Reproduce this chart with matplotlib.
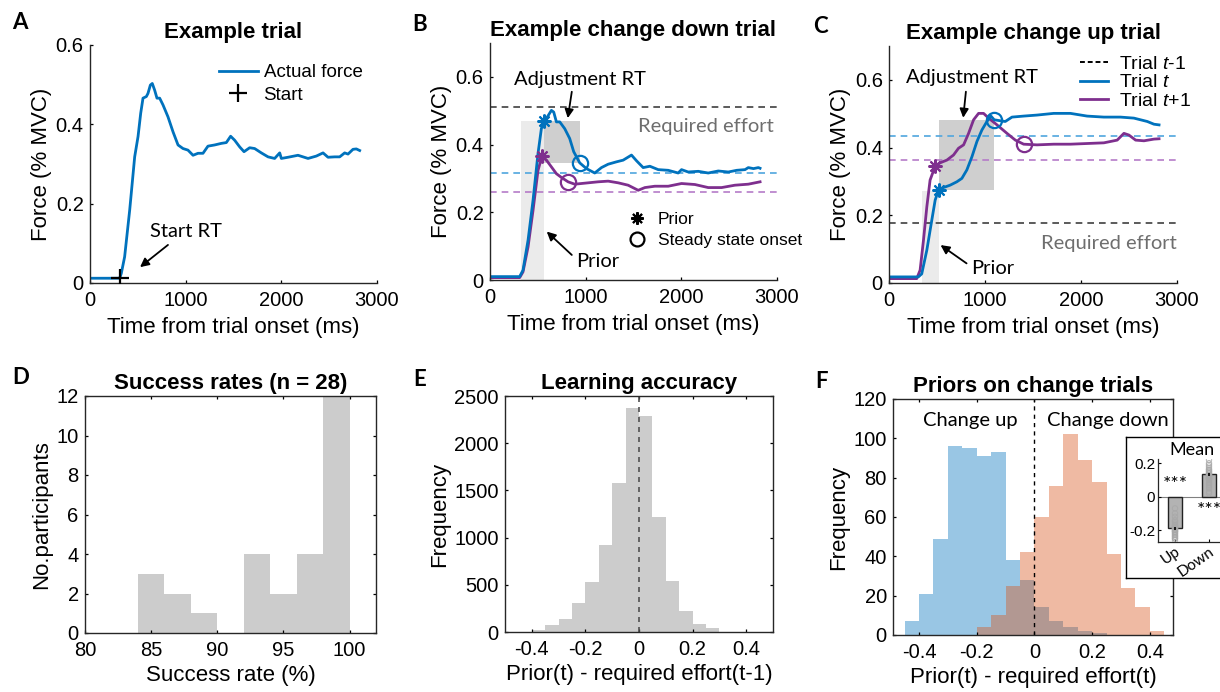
import numpy as np
import matplotlib.pyplot as plt
from matplotlib.lines import Line2D

# Style settings
plt.rcParams['font.family'] = ['Liberation Sans', 'DejaVu Sans']
plt.rcParams['font.size'] = 14
plt.rcParams['axes.unicode_minus'] = False
plt.rcParams['mathtext.fontset'] = 'custom'
plt.rcParams['mathtext.it'] = 'Liberation Sans:italic'
plt.rcParams['mathtext.rm'] = 'Liberation Sans'
plt.rcParams['xtick.direction'] = 'in'
plt.rcParams['ytick.direction'] = 'in'
plt.rcParams['xtick.major.size'] = 2.5
plt.rcParams['ytick.major.size'] = 2.5
plt.rcParams['xtick.major.pad'] = 5.5
plt.rcParams['ytick.major.pad'] = 4.5
plt.rcParams['axes.linewidth'] = 1.0

TICK = 14.5
LABEL = 16
TITLE = 16
NOTE = 14.5
LEG = 13.5
NOTE_FONT = 'Lato'

BLUE = '#0072BD'
PURPLE = '#7E2F8E'
BLUE_D = '#4FA6DE'
PURPLE_D = '#B57BC8'
GREY_L = '#EBEBEB'
GREY_D = '#CFCFCF'
HIST_GREY = '#CCCCCC'
AX_COL = '#262626'

# ---------------- Data ----------------
# A: example trial
a_time = [0, 310, 327, 362, 415, 467, 502, 530, 554, 589, 606, 631, 651, 676, 700, 728,
          763, 815, 868, 920, 972, 1024, 1077, 1129, 1181, 1233, 1303, 1373, 1425, 1470,
          1512, 1565, 1610, 1669, 1721, 1791, 1861, 1930, 1983, 2000, 2070, 2174, 2279,
          2366, 2436, 2488, 2558, 2610, 2662, 2697, 2749, 2784, 2819]
a_force = [0.012, 0.012, 0.024, 0.066, 0.184, 0.318, 0.369, 0.428, 0.466, 0.470, 0.478,
           0.499, 0.503, 0.486, 0.466, 0.466, 0.449, 0.419, 0.381, 0.348, 0.339, 0.335,
           0.322, 0.327, 0.327, 0.345, 0.348, 0.352, 0.354, 0.370, 0.360, 0.343, 0.331,
           0.341, 0.339, 0.328, 0.318, 0.314, 0.328, 0.314, 0.317, 0.322, 0.314, 0.320,
           0.328, 0.317, 0.318, 0.318, 0.328, 0.325, 0.337, 0.338, 0.334]
a_start = (310, 0.012)

# B: change down trial
b_time_t = [0, 310, 345, 398, 450, 502, 537, 565, 600, 642, 666, 694, 729, 781, 833, 875,
            938, 1008, 1095, 1165, 1235, 1322, 1392, 1479, 1532, 1601, 1671, 1758, 1863,
            1967, 2002, 2072, 2177, 2281, 2386, 2491, 2579, 2666, 2700, 2754, 2805, 2823]
b_force_t = [0.010, 0.010, 0.029, 0.118, 0.236, 0.374, 0.447, 0.470, 0.482, 0.501, 0.496,
             0.467, 0.467, 0.447, 0.418, 0.379, 0.346, 0.329, 0.316, 0.332, 0.342, 0.349,
             0.354, 0.369, 0.352, 0.332, 0.336, 0.326, 0.324, 0.316, 0.326, 0.319, 0.321,
             0.316, 0.322, 0.319, 0.324, 0.326, 0.332, 0.329, 0.332, 0.330]
b_time_t1 = [0, 310, 345, 398, 450, 502, 544, 590, 642, 694, 746, 816, 886, 956, 1026,
             1130, 1235, 1340, 1444, 1549, 1619, 1723, 1863, 2002, 2142, 2281, 2421, 2560,
             2700, 2823]
b_force_t1 = [0.007, 0.007, 0.024, 0.098, 0.206, 0.324, 0.366, 0.354, 0.334, 0.314, 0.303,
              0.290, 0.283, 0.285, 0.287, 0.290, 0.292, 0.287, 0.280, 0.265, 0.273, 0.277,
              0.277, 0.285, 0.282, 0.273, 0.273, 0.280, 0.283, 0.290]
b_req_prev, b_req_t, b_req_t1 = 0.51, 0.315, 0.261
b_prior_t, b_steady_t = (565, 0.47), (938, 0.346)
b_prior_t1, b_steady_t1 = (544, 0.366), (816, 0.29)

# C: change up trial
c_time_t = [0, 306, 341, 394, 446, 481, 516, 568, 637, 707, 759, 811, 864, 916, 968, 1020,
            1062, 1096, 1142, 1211, 1281, 1403, 1542, 1716, 1890, 2064, 2238, 2412, 2551,
            2691, 2760, 2813]
c_force_t = [0.018, 0.018, 0.027, 0.097, 0.186, 0.245, 0.274, 0.282, 0.289, 0.299, 0.309,
             0.334, 0.373, 0.418, 0.452, 0.477, 0.493, 0.482, 0.480, 0.477, 0.490, 0.493,
             0.496, 0.501, 0.501, 0.493, 0.490, 0.490, 0.487, 0.477, 0.469, 0.467]
c_time_t1 = [0, 289, 324, 359, 394, 428, 481, 533, 603, 672, 724, 777, 829, 881, 933, 985,
             1038, 1125, 1229, 1316, 1403, 1542, 1716, 1890, 2064, 2238, 2377, 2447, 2499,
             2569, 2656, 2760, 2813]
c_force_t1 = [0.013, 0.013, 0.038, 0.126, 0.225, 0.304, 0.345, 0.355, 0.363, 0.378, 0.398,
              0.408, 0.442, 0.482, 0.501, 0.501, 0.487, 0.467, 0.442, 0.422, 0.410, 0.408,
              0.410, 0.410, 0.412, 0.414, 0.422, 0.442, 0.437, 0.422, 0.420, 0.425, 0.426]
c_req_prev, c_req_t, c_req_t1 = 0.176, 0.435, 0.363
c_prior_t, c_steady_t = (516, 0.274), (1096, 0.482)
c_prior_t1, c_steady_t1 = (481, 0.345), (1403, 0.41)

# D: success rates
d_edges = [84, 86, 88, 90, 92, 94, 96, 98, 100]
d_counts = [3, 2, 1, 0, 4, 2, 4, 12]

# E: learning accuracy
e_edges = [-0.40, -0.35, -0.30, -0.25, -0.20, -0.15, -0.10, -0.05, 0.0,
           0.05, 0.10, 0.15, 0.20, 0.25, 0.30]
e_counts = [25, 77, 137, 306, 528, 919, 1574, 2377, 2289, 1222, 535, 225, 88, 42]

# F: priors on change trials
f_edges = [-0.45, -0.40, -0.35, -0.30, -0.25, -0.20, -0.15, -0.10, -0.05, 0.0,
           0.05, 0.10, 0.15, 0.20, 0.25, 0.30, 0.35, 0.40, 0.45]
f_up = [7, 21, 49, 96, 95, 91, 93, 38, 28, 14, 7, 4, 2, 1, 0, 0, 0, 0]
f_down = [0, 0, 0, 0, 0, 4, 10, 25, 42, 60, 76, 102, 89, 78, 41, 24, 14, 2]

# F inset: mean priors
ins_cats = ['Up', 'Down']
ins_means = [-0.19, 0.133]
ins_sem = [0.008, 0.008]
up_pts = [-0.07, -0.10, -0.12, -0.14, -0.15, -0.16, -0.17, -0.17, -0.18, -0.18, -0.19,
          -0.19, -0.20, -0.20, -0.20, -0.21, -0.21, -0.22, -0.22, -0.23, -0.23, -0.24,
          -0.24, -0.25, -0.25, -0.26, -0.19, -0.21]
down_pts = [0.22, 0.20, 0.19, 0.18, 0.17, 0.16, 0.16, 0.15, 0.15, 0.14, 0.14, 0.13, 0.13,
            0.12, 0.12, 0.11, 0.11, 0.10, 0.10, 0.09, 0.08, 0.07, 0.06, 0.05, 0.03, 0.02,
            0.13, 0.12]

# ---------------- Figure ----------------
W, H = 1220, 692
fig = plt.figure(figsize=(W / 100, H / 100), dpi=100)


def px_axes(left, top, right, bottom):
    return fig.add_axes([left / W, 1 - bottom / H, (right - left) / W, (bottom - top) / H])


def style(ax, box=False):
    for s in ax.spines.values():
        s.set_color(AX_COL)
    if box:
        ax.tick_params(top=True, right=True)
    else:
        ax.spines['top'].set_visible(False)
        ax.spines['right'].set_visible(False)
    ax.tick_params(labelsize=TICK, colors='k', width=0.9)
    for s in ax.spines.values():
        s.set_zorder(5)


def arrow(ax, head, tail):
    ax.annotate('', xy=head, xytext=tail,
                arrowprops=dict(arrowstyle='-|>', color='k', lw=1.3, mutation_scale=13,
                                shrinkA=0, shrinkB=0))


def note(ax, x, y, s, **kw):
    kw.setdefault('ha', 'center')
    kw.setdefault('va', 'center')
    ax.text(x, y, s, fontsize=NOTE, family=NOTE_FONT, **kw)


def force_axes(ax, ymax, yticks, ylabels):
    style(ax)
    ax.set_xlim(0, 3000)
    ax.set_ylim(0, ymax)
    ax.set_xticks([0, 1000, 2000, 3000])
    ax.set_yticks(yticks)
    ax.set_yticklabels(ylabels)
    ax.set_xlabel('Time from trial onset (ms)', fontsize=LABEL, labelpad=5)
    ax.set_ylabel('Force (% MVC)', fontsize=LABEL, labelpad=3)


# ---- A ----
axA = px_axes(90, 45, 377, 283)
force_axes(axA, 0.6, [0, 0.2, 0.4, 0.6], ['0', '0.2', '0.4', '0.6'])
axA.plot(a_time, a_force, color=BLUE, lw=2, label='Actual force')
axA.plot(*a_start, '+', color='k', ms=13, mew=1.6, label='Start', zorder=6)
axA.set_title('Example trial', fontsize=TITLE, fontweight='bold', pad=5)
note(axA, 1003, 0.129, 'Start RT')
arrow(axA, (523, 0.04), (815, 0.096))
axA.legend(loc='upper right', bbox_to_anchor=(0.995, 0.975), frameon=False, fontsize=LEG,
           handlelength=2.1, handletextpad=0.3, labelspacing=0.3, borderpad=0.2)

# ---- B ----
axB = px_axes(490, 43, 777, 280)
force_axes(axB, 0.7, [0, 0.2, 0.4, 0.6], ['0', '0.2', '0.4', '0.6'])
axB.set_title('Example change down trial', fontsize=TITLE, fontweight='bold', pad=5)
axB.fill_between([b_time_t[2] - 24, b_prior_t[0]], 0, b_prior_t[1], color=GREY_L, lw=0, zorder=0)
axB.fill_between([b_prior_t[0], b_steady_t[0]], b_steady_t[1], b_prior_t[1], color=GREY_D,
                 lw=0, zorder=0)
axB.axhline(b_req_prev, color='#404040', ls='--', lw=1.2, dashes=(4, 3))
axB.axhline(b_req_t, color=BLUE_D, ls='--', lw=1.2, dashes=(4, 3))
axB.axhline(b_req_t1, color=PURPLE_D, ls='--', lw=1.2, dashes=(4, 3))
axB.plot(b_time_t1, b_force_t1, color=PURPLE, lw=2)
axB.plot(b_time_t, b_force_t, color=BLUE, lw=2)
ast = (8, 2, 0)
for (pt, st, col) in [(b_prior_t, b_steady_t, BLUE), (b_prior_t1, b_steady_t1, PURPLE)]:
    axB.plot(*pt, marker=ast, color=col, ms=10, mew=1.5, zorder=6)
    axB.plot(*st, 'o', mfc='none', mec=col, ms=11, mew=1.6, zorder=6)
note(axB, 942, 0.593, 'Adjustment RT')
arrow(axB, (813, 0.478), (855, 0.556))
note(axB, 2962, 0.452, 'Required effort', ha='right', color='#6E6E6E')
note(axB, 1130, 0.054, 'Prior')
arrow(axB, (593, 0.143), (855, 0.074))
hB = [Line2D([], [], ls='none', marker=ast, color='k', ms=9, mew=1.5),
      Line2D([], [], ls='none', marker='o', mfc='none', mec='k', ms=10, mew=1.6)]
axB.legend(hB, ['Prior', 'Steady state onset'], loc='upper left', bbox_to_anchor=(0.44, 0.33),
           frameon=False, fontsize=12.5, handlelength=1.2, handletextpad=0.6,
           labelspacing=0.3, borderpad=0.1)

# ---- C ----
axC = px_axes(889, 46, 1177, 283)
force_axes(axC, 0.7, [0, 0.2, 0.4, 0.6], ['0', '0.2', '0.4', '0.6'])
axC.set_title('Example change up trial', fontsize=TITLE, fontweight='bold', pad=5)
axC.fill_between([c_time_t1[2] + 17, c_prior_t[0]], 0, c_prior_t[1] - 0.002, color=GREY_L,
                 lw=0, zorder=0)
axC.fill_between([c_prior_t[0], c_steady_t[0]], c_prior_t[1], c_steady_t[1], color=GREY_D,
                 lw=0, zorder=0)
axC.axhline(c_req_prev, color='#404040', ls='--', lw=1.2, dashes=(4, 3))
axC.axhline(c_req_t, color=BLUE_D, ls='--', lw=1.2, dashes=(4, 3))
axC.axhline(c_req_t1, color=PURPLE_D, ls='--', lw=1.2, dashes=(4, 3))
axC.plot(c_time_t1, c_force_t1, color=PURPLE, lw=2)
axC.plot(c_time_t, c_force_t, color=BLUE, lw=2)
for (pt, st, col) in [(c_prior_t, c_steady_t, BLUE), (c_prior_t1, c_steady_t1, PURPLE)]:
    axC.plot(*pt, marker=ast, color=col, ms=10, mew=1.5, zorder=6)
    axC.plot(*st, 'o', mfc='none', mec=col, ms=11, mew=1.6, zorder=6)
note(axC, 864, 0.606, 'Adjustment RT')
arrow(axC, (773, 0.488), (801, 0.565))
note(axC, 2994, 0.118, 'Required effort', ha='right', color='#6E6E6E')
note(axC, 1078, 0.044, 'Prior')
arrow(axC, (537, 0.112), (808, 0.058))
hC = [Line2D([], [], color='k', ls='--', lw=1.4, dashes=(2.5, 1.5)),
      Line2D([], [], color=BLUE, lw=2), Line2D([], [], color=PURPLE, lw=2)]
axC.legend(hC, ['Trial $\\mathit{t}$-$\\mathit{1}$', 'Trial $\\mathit{t}$',
                'Trial $\\mathit{t}$+$\\mathit{1}$'],
           loc='upper right', bbox_to_anchor=(1.09, 1.01), frameon=False, fontsize=14,
           handlelength=1.4, handletextpad=0.6, labelspacing=0.05, borderpad=0.1)

# ---- D ----
axD = px_axes(85, 396, 376, 633)
style(axD, box=True)
axD.stairs(d_counts, d_edges, fill=True, color=HIST_GREY, lw=0)
axD.set_xlim(80, 102)
axD.set_ylim(0, 12)
axD.set_xticks([80, 85, 90, 95, 100])
axD.set_yticks(range(0, 13, 2))
axD.set_title('Success rates (n = 28)', fontsize=TITLE, fontweight='bold', pad=5)
axD.set_xlabel('Success rate (%)', fontsize=LABEL, labelpad=4)
axD.set_ylabel('No.participants', fontsize=LABEL, labelpad=3)

# ---- E ----
axE = px_axes(505, 396, 773, 632)
style(axE, box=True)
axE.stairs(e_counts, e_edges, fill=True, color=HIST_GREY, lw=0)
axE.axvline(0, color='#505050', ls='--', lw=1.2, dashes=(3, 3))
axE.set_xlim(-0.5, 0.5)
axE.set_ylim(0, 2500)
axE.set_xticks([-0.4, -0.2, 0, 0.2, 0.4])
axE.set_xticklabels(['-0.4', '-0.2', '0', '0.2', '0.4'])
axE.set_yticks(range(0, 2501, 500))
axE.set_title('Learning accuracy', fontsize=TITLE, fontweight='bold', pad=5)
axE.set_xlabel('Prior(t) - required effort(t-1)', fontsize=LABEL, labelpad=4)
axE.set_ylabel('Frequency', fontsize=LABEL, labelpad=3)

# ---- F ----
axF = px_axes(893, 399, 1173, 635)
style(axF, box=True)
axF.stairs(f_up, f_edges, fill=True, color=BLUE, alpha=0.4, lw=0)
axF.stairs(f_down, f_edges, fill=True, color='#D95319', alpha=0.4, lw=0)
axF.axvline(0, color='k', ls='--', lw=1.0, dashes=(3, 3))
axF.set_xlim(-0.49, 0.48)
axF.set_ylim(0, 120)
axF.set_xticks([-0.4, -0.2, 0, 0.2, 0.4])
axF.set_xticklabels(['-0.4', '-0.2', '0', '0.2', '0.4'])
axF.set_yticks(range(0, 121, 20))
axF.set_title('Priors on change trials', fontsize=TITLE, fontweight='bold', pad=5)
axF.set_xlabel('Prior(t) - required effort(t)', fontsize=LABEL, labelpad=4)
axF.set_ylabel('Frequency', fontsize=LABEL, labelpad=3)
note(axF, -0.222, 109.3, 'Change up')
note(axF, 0.255, 109.3, 'Change down')

# inset panel
box = px_axes(1125.7, 437.3, 1260, 577.7)
box.set_xticks([])
box.set_yticks([])
for s in box.spines.values():
    s.set_color('k')
    s.set_linewidth(1.0)
box.patch.set_facecolor('white')

ins = px_axes(1158, 459, 1226, 541.8)
ins.patch.set_alpha(0)
for s in ins.spines.values():
    s.set_color(AX_COL)
    s.set_linewidth(0.9)
ins.spines['top'].set_visible(False)
ins.spines['right'].set_visible(False)
ins.axhline(0, color='#808080', lw=0.8, zorder=1)
ins.bar([1, 2], ins_means, width=0.42, color='#B3B3B3', edgecolor='#222222', lw=1.0, zorder=2)
ins.scatter([1] * len(up_pts), up_pts, s=15, facecolors='none', edgecolors='#A8A8A8',
            lw=0.7, alpha=0.8, zorder=3)
ins.scatter([2] * len(down_pts), down_pts, s=15, facecolors='none', edgecolors='#A8A8A8',
            lw=0.7, alpha=0.8, zorder=3)
ins.errorbar([1, 2], ins_means, yerr=ins_sem, fmt='none', ecolor='k', lw=1.2, zorder=4)
ins.set_xlim(0.5, 2.5)
ins.set_ylim(-0.27, 0.225)
ins.set_xticks([1, 2])
ins.set_xticklabels(ins_cats, rotation=35, ha='right', rotation_mode='anchor',
                    family=NOTE_FONT, fontsize=12)
ins.set_yticks([-0.2, 0, 0.2])
ins.set_yticklabels(['-0.2', '0', '0.2'])
ins.tick_params(labelsize=11, length=2, pad=2)
ins.set_title('Mean', family=NOTE_FONT, fontsize=13, pad=3)
ins.text(1.0, 0.075, '***', ha='center', va='center', fontsize=14, family=NOTE_FONT)
ins.text(2.02, -0.085, '***', ha='center', va='center', fontsize=14, family=NOTE_FONT)

# panel letters
for letter, x, y in [('A', 12, 12), ('B', 412, 14), ('C', 813, 16),
                     ('D', 12, 367), ('E', 413, 369), ('F', 815, 371)]:
    fig.text(x / W, 1 - y / H, letter, fontsize=16, fontweight='bold', family=NOTE_FONT,
             ha='left', va='top')

fig.savefig('out.png', dpi=100)
